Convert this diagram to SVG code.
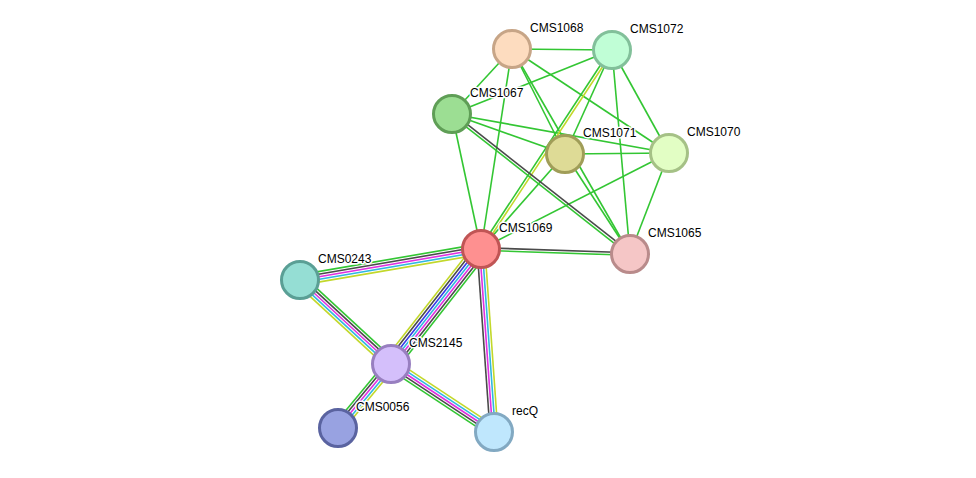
<svg xmlns="http://www.w3.org/2000/svg" width="976" height="478" viewBox="0 0 976 478">
<style>
line{stroke-width:1.6;fill:none}
.g{stroke:#33c633}.k{stroke:#4a4a4a}.m{stroke:#e030e0}.c{stroke:#30b8e0}.y{stroke:#c2d82a}.b{stroke:#3838e8}
circle{stroke-width:3}
text{font-family:"Liberation Sans",Arial,sans-serif;font-size:12px;fill:#000;stroke:#fff;stroke-width:3;paint-order:stroke;stroke-linejoin:round}
</style>
<rect width="976" height="478" fill="#fff"/>
<g id="connectors">
<line class="g" x1="512" y1="49" x2="612" y2="50"/>
<line class="g" x1="512" y1="49" x2="452" y2="114"/>
<line class="g" x1="512" y1="49" x2="481" y2="249"/>
<line class="g" x1="512" y1="49" x2="565" y2="154"/>
<line class="g" x1="512" y1="49" x2="630" y2="254"/>
<line class="g" x1="512" y1="49" x2="669" y2="153"/>
<line class="g" x1="612" y1="50" x2="452" y2="114"/>
<line class="g" x1="612" y1="50" x2="565" y2="154"/>
<line class="g" x1="612" y1="50" x2="669" y2="153"/>
<line class="g" x1="612" y1="50" x2="630" y2="254"/>
<line class="g" x1="452" y1="114" x2="565" y2="154"/>
<line class="g" x1="452" y1="114" x2="669" y2="153"/>
<line class="g" x1="452" y1="114" x2="481" y2="249"/>
<line class="g" x1="565" y1="154" x2="669" y2="153"/>
<line class="g" x1="565" y1="154" x2="481" y2="249"/>
<line class="g" x1="565" y1="154" x2="630" y2="254"/>
<line class="g" x1="669" y1="153" x2="481" y2="249"/>
<line class="g" x1="669" y1="153" x2="630" y2="254"/>
<!-- 1072-1069 -->
<g><line class="g" x1="612" y1="50" x2="481" y2="249" transform="translate(-1.09,-0.72)"/>
<line class="y" x1="612" y1="50" x2="481" y2="249" transform="translate(1.09,0.72)"/></g>
<!-- 1067-1065 -->
<g><line class="k" x1="452" y1="114" x2="630" y2="254" transform="translate(0.8,-1.02)"/>
<line class="g" x1="452" y1="114" x2="630" y2="254" transform="translate(-0.8,1.02)"/></g>
<!-- 1069-1065 -->
<g><line class="k" x1="481" y1="249" x2="630" y2="254" transform="translate(0.04,-1.3)"/>
<line class="g" x1="481" y1="249" x2="630" y2="254" transform="translate(-0.04,1.3)"/></g>
<!-- 1069-0243 -->
<g><line class="g" x1="481" y1="249" x2="300" y2="280" transform="translate(-0.88,-5.13)"/>
<line class="k" x1="481" y1="249" x2="300" y2="280" transform="translate(-0.44,-2.56)"/>
<line class="m" x1="481" y1="249" x2="300" y2="280"/>
<line class="c" x1="481" y1="249" x2="300" y2="280" transform="translate(0.44,2.56)"/>
<line class="y" x1="481" y1="249" x2="300" y2="280" transform="translate(0.88,5.13)"/></g>
<!-- 0243-2145 -->
<g><line class="g" x1="300" y1="280" x2="391" y2="364" transform="translate(3.53,-3.82)"/>
<line class="k" x1="300" y1="280" x2="391" y2="364" transform="translate(1.76,-1.91)"/>
<line class="m" x1="300" y1="280" x2="391" y2="364"/>
<line class="c" x1="300" y1="280" x2="391" y2="364" transform="translate(-1.76,1.91)"/>
<line class="y" x1="300" y1="280" x2="391" y2="364" transform="translate(-3.53,3.82)"/></g>
<!-- 1069-2145 -->
<g><line class="y" x1="481" y1="249" x2="391" y2="364" transform="translate(-6.14,-4.8)"/>
<line class="k" x1="481" y1="249" x2="391" y2="364" transform="translate(-4.1,-3.2)"/>
<line class="b" x1="481" y1="249" x2="391" y2="364" transform="translate(-2.05,-1.6)"/>
<line class="c" x1="481" y1="249" x2="391" y2="364"/>
<line class="m" x1="481" y1="249" x2="391" y2="364" transform="translate(2.05,1.6)"/>
<line class="k" x1="481" y1="249" x2="391" y2="364" transform="translate(4.1,3.2)"/>
<line class="g" x1="481" y1="249" x2="391" y2="364" transform="translate(6.14,4.8)"/></g>
<!-- 1069-recQ -->
<g><line class="k" x1="481" y1="249" x2="494" y2="432" transform="translate(-3.89,0.28)"/>
<line class="m" x1="481" y1="249" x2="494" y2="432" transform="translate(-1.3,0.09)"/>
<line class="c" x1="481" y1="249" x2="494" y2="432" transform="translate(1.3,-0.09)"/>
<line class="y" x1="481" y1="249" x2="494" y2="432" transform="translate(3.89,-0.28)"/></g>
<!-- 2145-0056 -->
<g><line class="g" x1="391" y1="364" x2="338" y2="428" transform="translate(-4,-3.32)"/>
<line class="k" x1="391" y1="364" x2="338" y2="428" transform="translate(-2,-1.66)"/>
<line class="m" x1="391" y1="364" x2="338" y2="428"/>
<line class="c" x1="391" y1="364" x2="338" y2="428" transform="translate(2,1.66)"/>
<line class="y" x1="391" y1="364" x2="338" y2="428" transform="translate(4,3.32)"/></g>
<!-- 2145-recQ -->
<g><line class="y" x1="391" y1="364" x2="494" y2="432" transform="translate(2.87,-4.34)"/>
<line class="c" x1="391" y1="364" x2="494" y2="432" transform="translate(1.43,-2.17)"/>
<line class="m" x1="391" y1="364" x2="494" y2="432"/>
<line class="k" x1="391" y1="364" x2="494" y2="432" transform="translate(-1.43,2.17)"/>
<line class="g" x1="391" y1="364" x2="494" y2="432" transform="translate(-2.87,4.34)"/></g>
</g>
<g id="CMS1068"><circle cx="512" cy="49" r="18.5" fill="#fddcbf" stroke="#c7a587"/><text x="530" y="32">CMS1068</text></g>
<g id="CMS1072"><circle cx="612" cy="50" r="18.5" fill="#c0fed6" stroke="#82c09a"/><text x="630" y="33">CMS1072</text></g>
<g id="CMS1067"><circle cx="452" cy="114" r="18.5" fill="#9cde93" stroke="#5f9e56"/><text x="470" y="97">CMS1067</text></g>
<g id="CMS1071"><circle cx="565" cy="154" r="18.5" fill="#dedb96" stroke="#a09d58"/><text x="583" y="137">CMS1071</text></g>
<g id="CMS1070"><circle cx="669" cy="153" r="18.5" fill="#e2fec4" stroke="#a5c186"/><text x="687" y="136">CMS1070</text></g>
<g id="CMS1069"><circle cx="481" cy="249" r="18.5" fill="#fe9090" stroke="#c05555"/><text x="499" y="232">CMS1069</text></g>
<g id="CMS1065"><circle cx="630" cy="254" r="18.5" fill="#f5c6c6" stroke="#b98b8b"/><text x="648" y="237">CMS1065</text></g>
<g id="CMS0243"><circle cx="300" cy="280" r="18.5" fill="#95ded4" stroke="#5a9f95"/><text x="318" y="263">CMS0243</text></g>
<g id="CMS2145"><circle cx="391" cy="364" r="18.5" fill="#d4bffb" stroke="#987fc0"/><text x="409" y="347">CMS2145</text></g>
<g id="CMS0056"><circle cx="338" cy="428" r="18.5" fill="#98a2e1" stroke="#5a63a0"/><text x="356" y="411">CMS0056</text></g>
<g id="recQ"><circle cx="494" cy="432" r="18.5" fill="#bfe7fd" stroke="#82a9c2"/><text x="512" y="415">recQ</text></g>
</svg>
